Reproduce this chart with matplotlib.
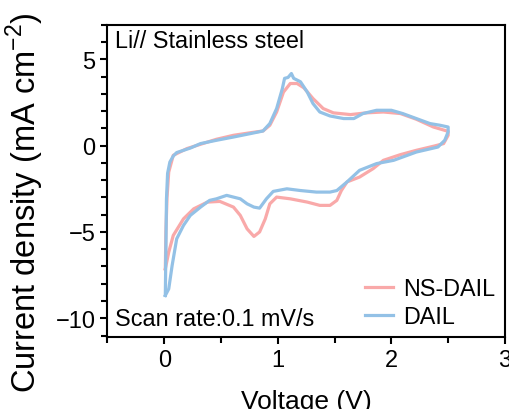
import matplotlib
matplotlib.use('agg')

import matplotlib.pyplot as plt
from matplotlib.ticker import MultipleLocator

plt.rcParams['font.family'] = ['Liberation Sans', 'DejaVu Sans']
plt.rcParams['mathtext.fontset'] = 'custom'
plt.rcParams['mathtext.rm'] = 'Liberation Sans'

# DAIL (blue), one full CV loop
dail_v = [0.01, 0.015, 0.02, 0.03, 0.05, 0.08, 0.11, 0.23, 0.32, 0.46, 0.61, 0.76,
          0.87, 0.93, 0.99, 1.04, 1.06, 1.09, 1.12, 1.14, 1.2, 1.26, 1.31, 1.37,
          1.46, 1.58, 1.67, 1.75, 1.87, 2.0, 2.1, 2.22, 2.34, 2.43, 2.5, 2.5,
          2.47, 2.41, 2.22, 2.02, 1.87, 1.72, 1.61, 1.52, 1.46, 1.34, 1.2, 1.08,
          0.96, 0.9, 0.84, 0.79, 0.73, 0.67, 0.55, 0.46, 0.4, 0.32, 0.23, 0.17,
          0.11, 0.07, 0.04, 0.01]
dail_j = [-8.68, -6.0, -3.1, -1.6, -0.95, -0.6, -0.4, -0.14, 0.12, 0.31, 0.5, 0.7,
          0.85, 1.28, 2.15, 3.3, 3.9, 3.95, 4.18, 3.9, 3.7, 3.1, 2.44, 1.95,
          1.72, 1.57, 1.57, 1.86, 2.05, 2.05, 1.86, 1.57, 1.28, 1.18, 1.08, 0.8,
          0.31, -0.08, -0.37, -0.85, -1.04, -1.43, -2.1, -2.6, -2.69, -2.69, -2.6, -2.5,
          -2.65, -3.08, -3.62, -3.56, -3.37, -3.08, -2.88, -3.08, -3.17, -3.56, -4.04, -4.62,
          -5.4, -6.94, -8.3, -8.68]

# NS-DAIL (pink)
ns_v = [0.01, 0.015, 0.025, 0.04, 0.08, 0.2, 0.32, 0.46, 0.61, 0.76, 0.87, 0.93,
        0.99, 1.05, 1.11, 1.17, 1.23, 1.31, 1.4, 1.49, 1.64, 1.78, 1.93, 2.08,
        2.22, 2.37, 2.5, 2.5, 2.46, 2.38, 2.22, 2.08, 1.93, 1.84, 1.72, 1.61,
        1.56, 1.52, 1.46, 1.37, 1.26, 1.11, 0.99, 0.93, 0.89, 0.84, 0.79, 0.73,
        0.67, 0.61, 0.49, 0.38, 0.26, 0.17, 0.08, 0.04, 0.01]
ns_j = [-7.14, -5.0, -3.0, -1.53, -0.56, -0.17, 0.08, 0.37, 0.6, 0.75, 0.85, 1.18,
        1.95, 3.1, 3.6, 3.6, 3.35, 2.73, 2.15, 1.9, 1.8, 1.9, 1.95, 1.86,
        1.53, 1.08, 0.83, 0.6, 0.12, -0.02, -0.27, -0.52, -0.85, -1.33, -1.82, -2.1,
        -2.6, -3.17, -3.46, -3.46, -3.27, -3.08, -2.98, -3.37, -4.24, -5.0, -5.26, -4.82,
        -4.04, -3.56, -3.23, -3.27, -3.66, -4.24, -5.2, -6.17, -7.14]

fig = plt.figure(figsize=(5.09, 4.10), dpi=100)
ax = fig.add_axes([0.211, 0.175, 0.781, 0.762])

ax.plot(ns_v, ns_j, color='#f9a9a9', lw=2.3, label='NS-DAIL')
ax.plot(dail_v, dail_j, color='#93c1e6', lw=2.3, label='DAIL')

ax.set_xlim(-0.5, 3)
ax.set_ylim(-11.1, 7)
ax.xaxis.set_major_locator(MultipleLocator(1))
ax.xaxis.set_minor_locator(MultipleLocator(0.5))
ax.yaxis.set_major_locator(MultipleLocator(5))
ax.yaxis.set_minor_locator(MultipleLocator(1))
ax.tick_params(which='both', direction='out', width=1.5, labelsize=17, top=False, right=False)
ax.tick_params(which='major', length=5)
ax.tick_params(which='minor', length=4)
for s in ax.spines.values():
    s.set_linewidth(1.5)

ax.set_xlabel('Voltage (V)', fontsize=19, labelpad=13)
ax.set_ylabel('Current density (mA cm$^{-2}$)', fontsize=23.5)
ax.yaxis.set_label_coords(-0.155, 0.435)

ax.text(0.019, 0.93, 'Li// Stainless steel', transform=ax.transAxes, fontsize=16.8)
ax.text(0.019, 0.04, 'Scan rate:0.1 mV/s', transform=ax.transAxes, fontsize=16.8)

ax.legend(loc='lower right', frameon=False, fontsize=16.8, handlelength=1.2,
          handletextpad=0.45, labelspacing=0.22, borderaxespad=0.0)

plt.savefig('out.png', dpi=100)
